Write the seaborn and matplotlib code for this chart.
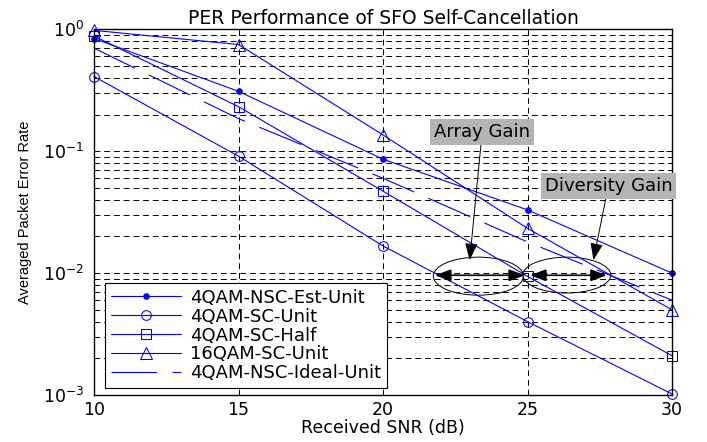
import numpy as np
import pandas as pd
import matplotlib
matplotlib.use("Agg")
import matplotlib.pyplot as plt
import seaborn as sns
from matplotlib.patches import Ellipse
from matplotlib import ticker

snr = [10, 15, 20, 25, 30]
nsc_est_unit = [0.84, 0.31, 0.086, 0.033, 0.010]
sc_unit = [0.41, 0.091, 0.0167, 0.0040, 0.00102]
sc_half = [0.88, 0.232, 0.047, 0.0094, 0.0021]
qam16_sc_unit = [0.98, 0.75, 0.136, 0.0233, 0.0050]
nsc_ideal_unit = [0.70, 0.185, 0.060, 0.018, 0.0060]

labels = ["4QAM-NSC-Est-Unit", "4QAM-SC-Unit", "4QAM-SC-Half",
          "16QAM-SC-Unit", "4QAM-NSC-Ideal-Unit"]

sns.set_theme(style="white")
plt.rcParams['font.family'] = ['DejaVu Sans']
plt.rcParams['mathtext.default'] = 'regular'
plt.rcParams['text.color'] = 'black'
plt.rcParams['axes.labelcolor'] = 'black'

fig = plt.figure(figsize=(7.07, 4.42), dpi=100)
ax = fig.add_axes([0.133, 0.1063, 0.8175, 0.8274])
ax.set_yscale('log')

blue = (0, 0, 1)
common = dict(ax=ax, color=blue, lw=0.8, clip_on=False)
sns.lineplot(x=snr, y=nsc_est_unit, marker='o', markersize=4,
             markerfacecolor=blue, markeredgecolor=blue, label=labels[0], **common)
sns.lineplot(x=snr, y=sc_unit, marker='o', markersize=7,
             markerfacecolor='none', markeredgecolor=blue, label=labels[1], **common)
sns.lineplot(x=snr, y=sc_half, marker='s', markersize=7,
             markerfacecolor='none', markeredgecolor=blue, label=labels[2], **common)
sns.lineplot(x=snr, y=qam16_sc_unit, marker='^', markersize=9,
             markerfacecolor='none', markeredgecolor=blue, label=labels[3], **common)
sns.lineplot(x=snr, y=nsc_ideal_unit, linestyle=(0, (41, 14)),
             label=labels[4], **common)

ax.set_xlim(10, 30)
ax.set_ylim(1e-3, 1)
ax.set_xticks(snr)
ax.yaxis.set_major_locator(ticker.LogLocator(base=10, numticks=10))
ax.yaxis.set_minor_locator(ticker.LogLocator(base=10, subs=np.arange(2, 10), numticks=20))
ax.yaxis.set_minor_formatter(ticker.NullFormatter())

ax.grid(True, which='major', axis='x', color='black', linestyle=(0, (6, 4)), lw=0.7)
ax.grid(True, which='both', axis='y', color='black', linestyle=(0, (6, 4)), lw=0.7)
ax.set_axisbelow(True)

ax.tick_params(which='both', direction='in', top=True, right=True,
               labelsize=12.5, color='black', length=4, width=0.7)
ax.tick_params(which='minor', length=2.5)
ax.tick_params(axis='x', colors='black', pad=4)
ax.tick_params(axis='y', colors='black', pad=7)
for s in ax.spines.values():
    s.set_color('black')
    s.set_linewidth(1.0)

ax.set_title("PER Performance of SFO Self-Cancellation", fontsize=13.5, pad=4)
ax.set_xlabel("Received SNR (dB)", fontsize=12.5, labelpad=0)
ax.set_ylabel("Averaged Packet Error Rate", fontsize=10.5, labelpad=8,
              family='Liberation Sans')

leg = ax.legend(loc='lower left', bbox_to_anchor=(0.013, 0.01), fontsize=13,
                frameon=True, fancybox=False, edgecolor='black', framealpha=1,
                handlelength=3.9, borderpad=0.3, labelspacing=0.05,
                handletextpad=0.5, borderaxespad=0.2)
leg.get_frame().set_linewidth(0.8)

box = dict(boxstyle='square,pad=0.22', fc='#b4b4b4', ec='none')
arrow = dict(arrowstyle='-|>,head_length=0.8,head_width=0.3', color='black',
             lw=0.7, shrinkA=0, shrinkB=0)
ax.annotate("Array Gain", xy=(23.0, 0.0128), xytext=(23.43, 0.143),
            ha='center', va='center', fontsize=13, bbox=box, arrowprops=arrow)
ax.annotate("Diversity Gain", xy=(27.28, 0.0128), xytext=(27.8, 0.052),
            ha='center', va='center', fontsize=13, bbox=box, arrowprops=arrow)

darrow = dict(arrowstyle='<|-|>,head_length=0.8,head_width=0.3', color='black',
              lw=1.2, shrinkA=0, shrinkB=0)
ax.annotate("", xy=(21.8, 0.0096), xytext=(24.91, 0.0096), arrowprops=darrow)
ax.annotate("", xy=(25.09, 0.0096), xytext=(27.74, 0.0096), arrowprops=darrow)

ax.add_patch(Ellipse((0.665, 0.325), 0.156, 0.104, transform=ax.transAxes,
                     fill=False, ec='black', lw=0.7))
ax.add_patch(Ellipse((0.818, 0.328), 0.152, 0.098, transform=ax.transAxes,
                     fill=False, ec='black', lw=0.7))

fig.savefig("out.png", dpi=100)
